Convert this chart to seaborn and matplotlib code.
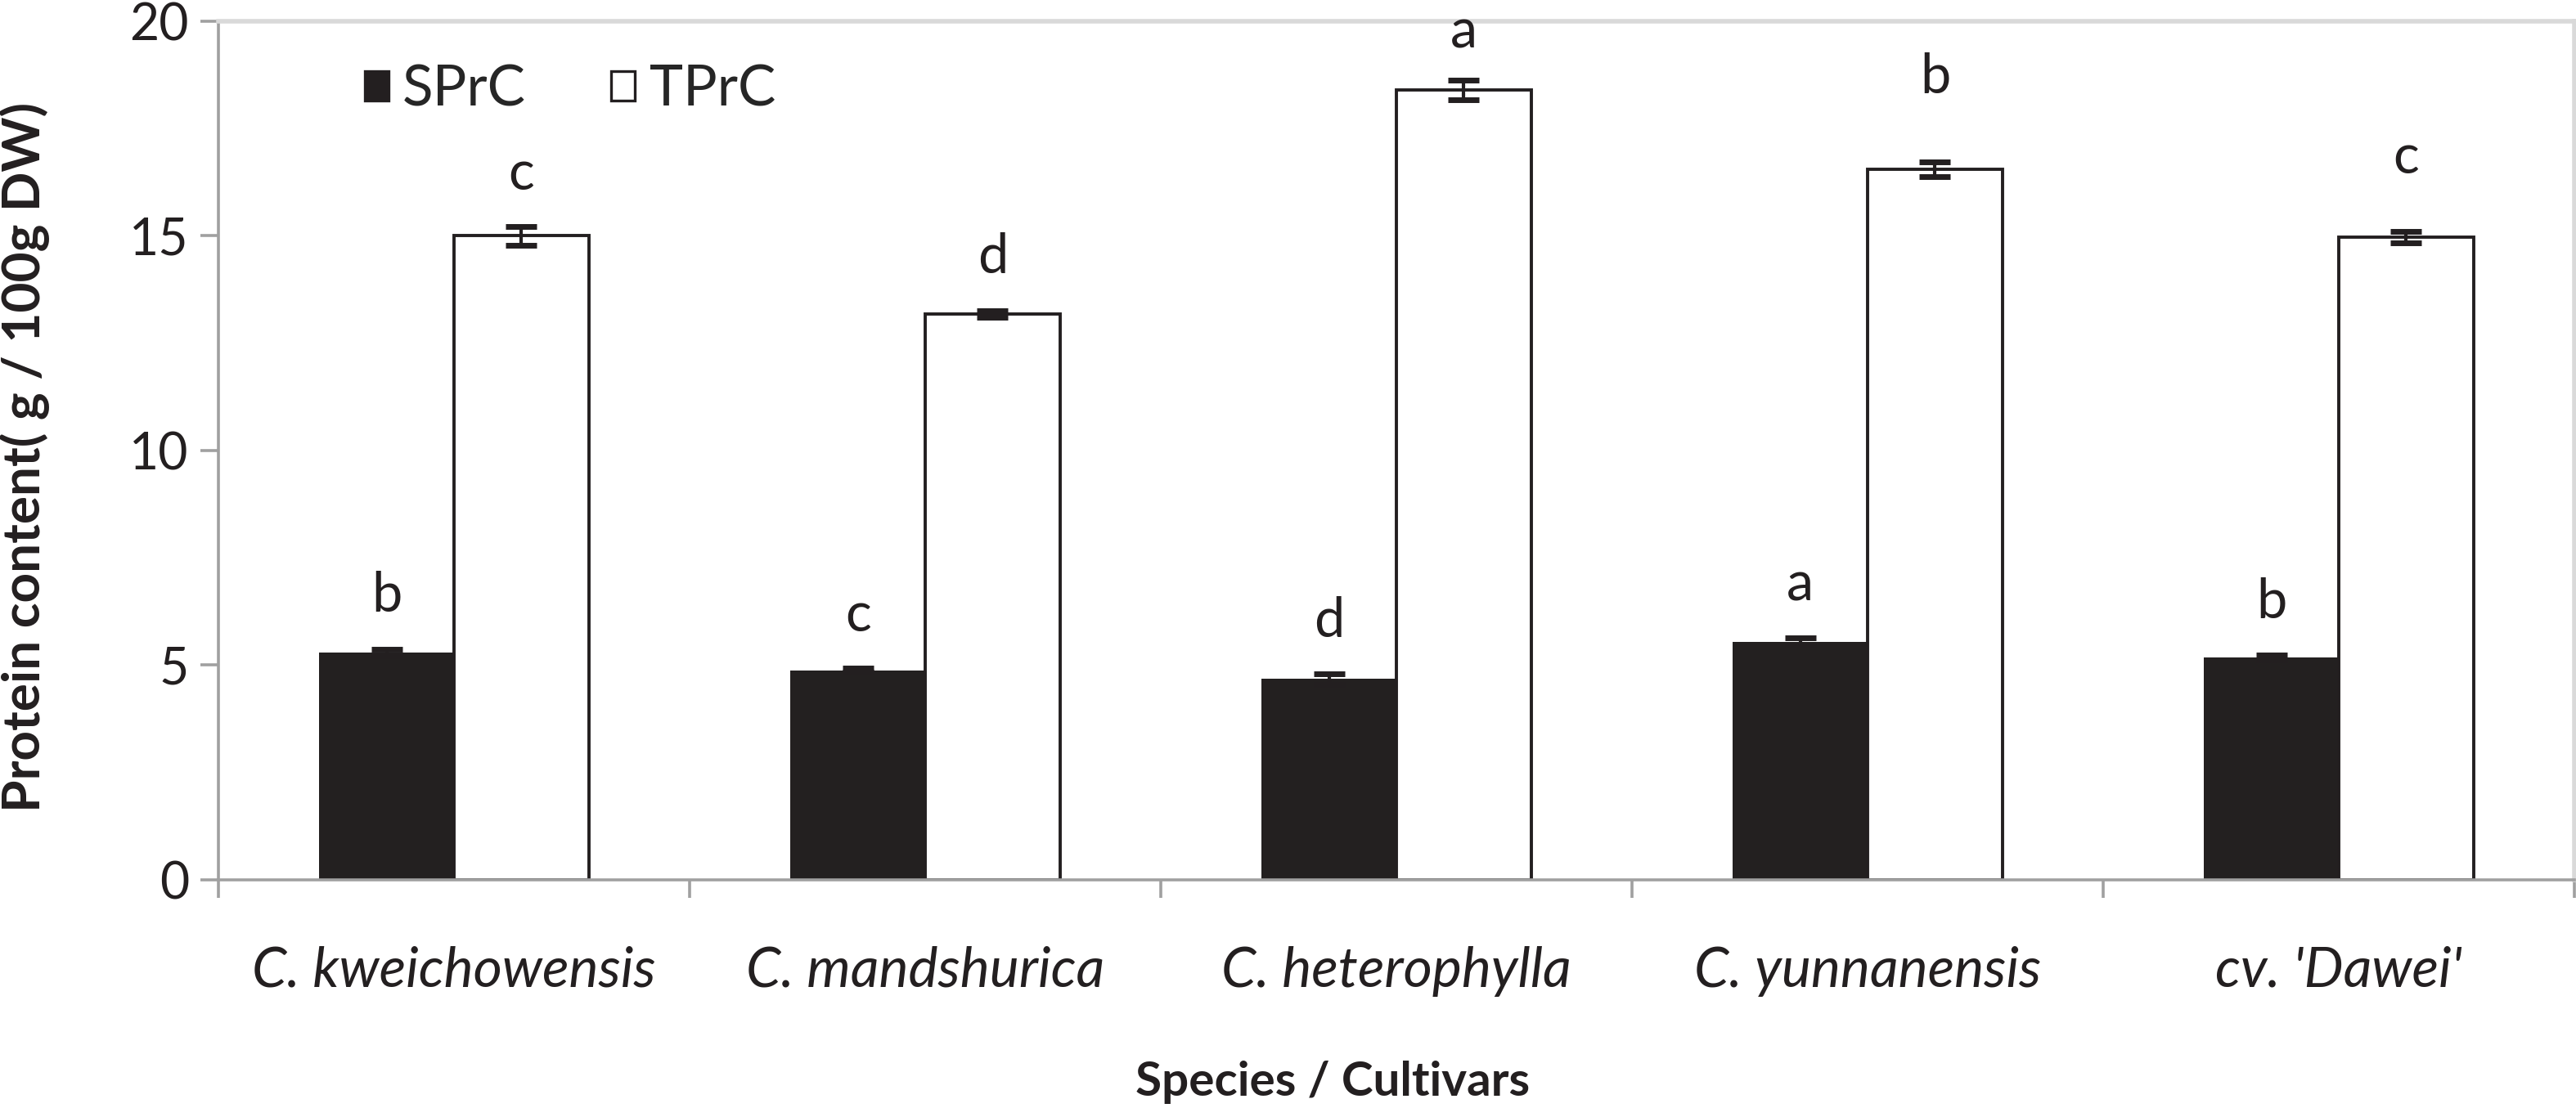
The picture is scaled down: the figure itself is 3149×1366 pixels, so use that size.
import pandas as pd
import matplotlib
matplotlib.use("Agg")
import matplotlib.pyplot as plt
from matplotlib.patches import Patch
from matplotlib.ticker import FixedLocator
import seaborn as sns

sns.set_theme(style="white")
plt.rcParams['font.family'] = ['Lato', 'DejaVu Sans']

species = ["C. kweichowensis", "C. mandshurica", "C. heterophylla",
           "C. yunnanensis", "cv. 'Dawei'"]
series = ["SPrC", "TPrC"]
sprc = [5.30, 4.88, 4.68, 5.55, 5.18]
sprc_err = [0.08, 0.05, 0.12, 0.09, 0.06]
tprc = [15.00, 13.18, 18.40, 16.55, 14.97]
tprc_err = [0.22, 0.08, 0.22, 0.17, 0.14]
sprc_letters = ["b", "c", "d", "a", "b"]
tprc_letters = ["c", "d", "a", "b", "c"]

df = pd.DataFrame({
    "species": species * 2,
    "series": ["SPrC"] * len(species) + ["TPrC"] * len(species),
    "value": sprc + tprc,
})

dark = "#231f20"
axis_grey = "#a0a0a0"
frame_grey = "#d9d9d9"

fig = plt.figure(figsize=(15.745, 6.83), dpi=200)
ax = fig.add_axes([0.0848, 0.2123, 0.9146, 0.7687])

sns.barplot(data=df, x="species", y="value", hue="series", order=species,
            hue_order=series, palette={"SPrC": dark, "TPrC": "white"},
            width=0.572, gap=0, errorbar=None, legend=False, ax=ax)

# style bars, add error bars and significance letters
errs = {"SPrC": sprc_err, "TPrC": tprc_err}
letters = {"SPrC": sprc_letters, "TPrC": tprc_letters}
lift = {"SPrC": [12, 12, 12, 12, 12], "TPrC": [12, 12, 10, 26, 21]}
for name, cont in zip(series, ax.containers):
    xs, hs = [], []
    for p in cont:
        p.set_edgecolor(dark)
        p.set_linewidth(1.4 if name == "TPrC" else 0)
        xs.append(p.get_x() + p.get_width() / 2)
        hs.append(p.get_height())
    ax.errorbar(xs, hs, yerr=errs[name], fmt="none", ecolor=dark,
                elinewidth=1.5, capsize=7, capthick=2.5, zorder=5)
    for x, h, e, lab, up in zip(xs, hs, errs[name], letters[name], lift[name]):
        ax.annotate(lab, (x, h + e), xytext=(0, up), textcoords="offset points",
                    ha="center", va="bottom", fontsize=24, color=dark)

ax.set_ylim(0, 20)
ax.set_xlim(-0.5, len(species) - 0.5)
ax.set_yticks([0, 5, 10, 15, 20])
ax.tick_params(axis="y", which="major", direction="out", length=8, width=1.3,
               color=axis_grey, labelsize=22.5, labelcolor=dark, pad=5, left=True)
ax.xaxis.set_minor_locator(FixedLocator([i - 0.5 for i in range(len(species) + 1)]))
ax.tick_params(axis="x", which="major", length=0, labelsize=24.5, labelcolor=dark, pad=29)
ax.tick_params(axis="x", which="minor", direction="out", length=8, width=1.3,
               color=axis_grey, bottom=True)
for lbl in ax.get_xticklabels():
    lbl.set_fontstyle("italic")

for side in ["left", "bottom"]:
    ax.spines[side].set_color(axis_grey)
    ax.spines[side].set_linewidth(1.3)
for side in ["top", "right"]:
    ax.spines[side].set_color(frame_grey)
    ax.spines[side].set_linewidth(2)

ax.set_xlabel("Species / Cultivars", fontsize=21, fontweight="bold", color=dark, va="center")
ax.xaxis.set_label_coords(0.473, -0.236)
ax.set_ylabel("Protein content( g / 100g DW)", fontsize=23, fontweight="bold",
              color=dark, va="center")
ax.yaxis.set_label_coords(-0.0823, 0.492)

handles = [Patch(facecolor=dark, edgecolor=dark, linewidth=1.2, label="SPrC"),
           Patch(facecolor="white", edgecolor=dark, linewidth=1.2, label="TPrC")]
ax.legend(handles=handles, loc="center left", bbox_to_anchor=(0.062, 0.92), ncol=2,
          frameon=False, fontsize=25, handlelength=0.42, handleheight=0.42,
          handletextpad=0.25, columnspacing=1.5, borderpad=0, borderaxespad=0)

fig.savefig("out.png", dpi=200, facecolor="white")
